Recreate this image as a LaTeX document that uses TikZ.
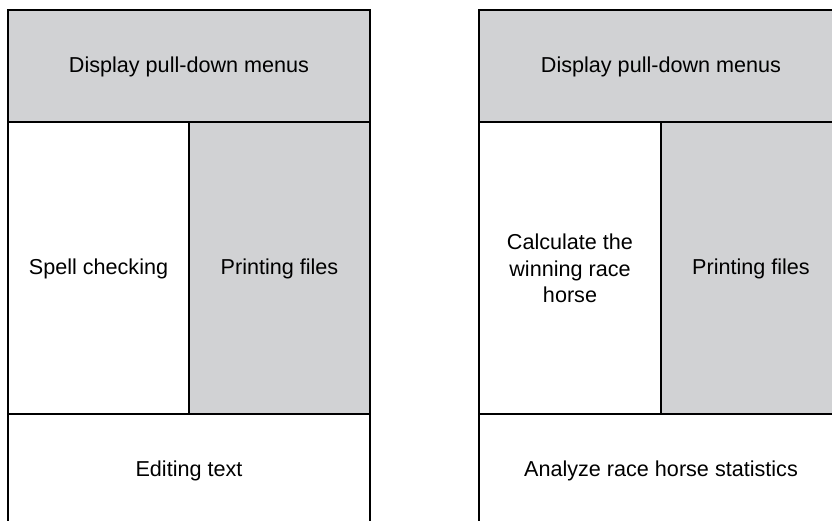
\documentclass[tikz,border=0pt]{standalone}
\usepackage{fontspec}
\setmainfont{Liberation Sans}
\definecolor{panelgray}{RGB}{209,210,212}
\tikzset{
  outer/.style={line width=2.2pt, black},
  inner/.style={line width=1.4pt, black},
  shade/.style={fill=panelgray, draw=none},
  lbl/.style={font=\fontsize{21.6}{26.4}\selectfont, anchor=base, inner sep=0pt, align=center},
}
\begin{document}
\begin{tikzpicture}[x=1pt,y=-1pt]
\useasboundingbox (0,0) rectangle (832,521);
\begin{scope}
\clip (0,0) rectangle (832,521);
% left panel fills
\fill[panelgray] (8,10) rectangle (370,122);
\fill[panelgray] (189,122) rectangle (370,414);
% right panel fills
\fill[panelgray] (479,10) rectangle (842,122);
\fill[panelgray] (661,122) rectangle (842,414);
% left panel lines
\draw[inner] (8,122) -- (370,122);
\draw[inner] (8,414) -- (370,414);
\draw[inner] (189,122) -- (189,414);
\draw[outer] (8,521) -- (8,10) -- (370,10) -- (370,521);
% right panel lines
\draw[inner] (479,122) -- (842,122);
\draw[inner] (479,414) -- (842,414);
\draw[inner] (661,122) -- (661,414);
\draw[outer] (479,521) -- (479,10) -- (842,10);
\end{scope}
% labels left
\node[lbl] (l1) at (189,72.3) {Display pull-down menus};
\node[lbl] (l2) at (98.5,275) {Spell checking};
\node[lbl] (l3) at (279.5,275) {Printing files};
\node[lbl] (l4) at (189,476) {Editing text};
% labels right
\node[lbl] (r1) at (661,72.3) {Display pull-down menus};
\node[lbl, anchor=north] (r2) at (570,234) {Calculate the\\winning race\\horse};
\node[lbl] (r3) at (751,275) {Printing files};
\node[lbl] (r4) at (661,476) {Analyze race horse statistics};
\end{tikzpicture}
\end{document}
